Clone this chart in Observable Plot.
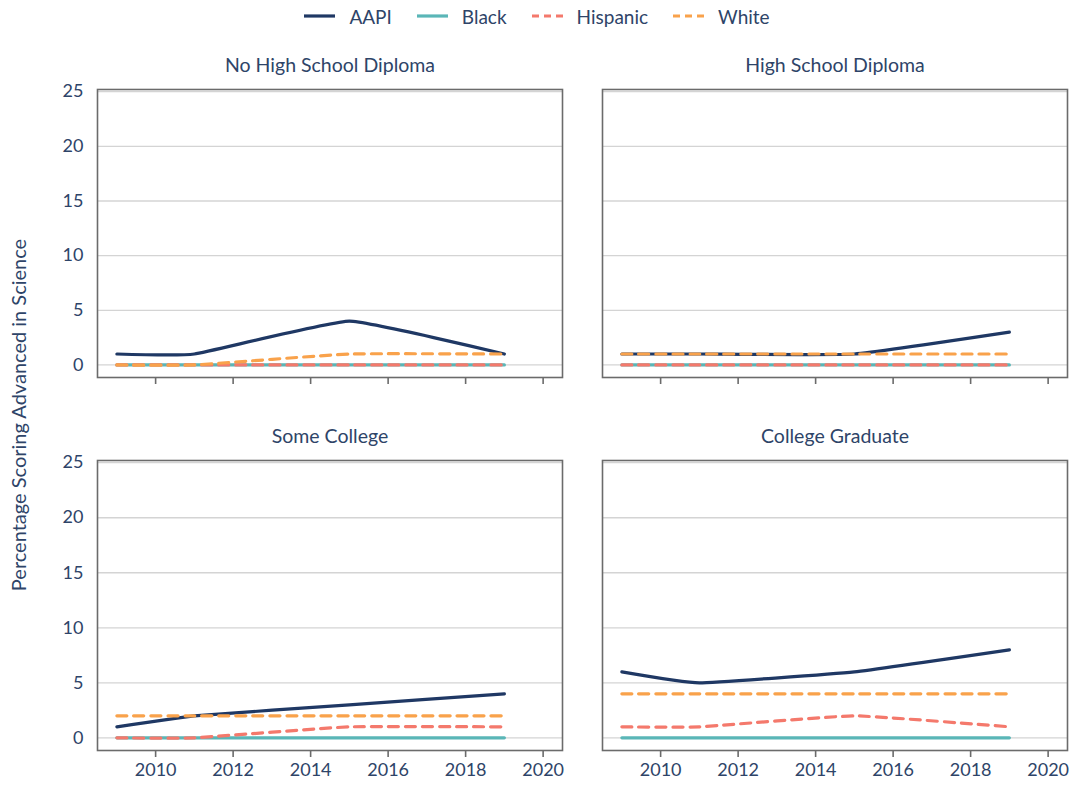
<!DOCTYPE html>
<html>
<head>
<meta charset="utf-8">
<script src="https://cdn.jsdelivr.net/npm/d3@7"></script>
<script src="https://cdn.jsdelivr.net/npm/@observablehq/plot@0.6"></script>
<style>
  html, body { margin: 0; padding: 0; background: #fff; }
  #root { position: relative; width: 1073px; height: 785px; font-family: Lato, "Open Sans", sans-serif; color: #2e4468; }
  .panel { position: absolute; }
  #legend { position: absolute; left: 0; top: 2px; width: 1073px; height: 28px; display: flex; justify-content: center; align-items: center; font-size: 19px; }
  .item { display: flex; align-items: center; margin: 0 12px; }
  .item svg { margin-right: 13px; }
  #ylabel { position: absolute; left: 18px; top: 415px; transform: translate(-50%, -50%) rotate(-90deg); white-space: nowrap; font-size: 20px; z-index: 5; }
</style>
</head>
<body>
<div id="root">
  <div id="legend"></div>
  <div id="ylabel">Percentage Scoring Advanced in Science</div>
</div>
<script>
// ---- Data ----
const years = [2009, 2011, 2015, 2019];
const panels = ["No High School Diploma", "High School Diploma", "Some College", "College Graduate"];
const groups = ["AAPI", "Black", "Hispanic", "White"];
// values per panel (same order as panels), per year
const aapi     = [[1, 1, 4, 1], [1, 1, 1, 3], [1, 2, 3, 4], [6, 5, 6, 8]];
const black    = [[0, 0, 0, 0], [0, 0, 0, 0], [0, 0, 0, 0], [0, 0, 0, 0]];
const hispanic = [[0, 0, 0, 0], [0, 0, 0, 0], [0, 0, 1, 1], [1, 1, 2, 1]];
const white    = [[0, 0, 1, 1], [1, 1, 1, 1], [2, 2, 2, 2], [4, 4, 4, 4]];
const yTicks = [0, 5, 10, 15, 20, 25];
const xTicks = [2010, 2012, 2014, 2016, 2018, 2020];

// ---- Styles ----
const colors = {AAPI: "#1f3864", Black: "#5ab6b7", Hispanic: "#f4796c", White: "#f9a24b"};
const dashes = {AAPI: null, Black: null, Hispanic: "10,7", White: "10,7"};
const textColor = "#2e4468";
const font = "Lato, 'Open Sans', sans-serif";

const seriesValues = {AAPI: aapi, Black: black, Hispanic: hispanic, White: white};

// layout per panel (page coords of frame)
const layout = [
  {left: 0,   top: 40,  ml: 97, mr: 2, mt: 49, mb: 12, fh: 288, labels: false, yaxis: true},
  {left: 600, top: 40,  ml: 2,  mr: 6, mt: 49, mb: 12, fh: 288, labels: false, yaxis: false},
  {left: 0,   top: 420, ml: 97, mr: 2, mt: 40, mb: 35, fh: 290, labels: true,  yaxis: true},
  {left: 600, top: 420, ml: 2,  mr: 6, mt: 40, mb: 35, fh: 290, labels: true,  yaxis: false}
];
const frameW = 465;
const smooth = d3.curveCardinal.tension(0.65);

const root = document.getElementById("root");

panels.forEach((name, i) => {
  const L = layout[i];
  const rows = [];
  groups.forEach(g => {
    years.forEach((yr, j) => rows.push({group: g, year: yr, value: seriesValues[g][i][j]}));
  });
  const marks = [
    Plot.gridY(yTicks, {stroke: "#d4d4d4", strokeOpacity: 1, strokeWidth: 1.3}),
    Plot.frame({stroke: "#6b6b6b", strokeWidth: 1.6}),
  ];
  groups.forEach(g => {
    marks.push(Plot.line(rows.filter(d => d.group === g), {
      x: "year", y: "value", stroke: colors[g], strokeWidth: 3.2,
      strokeDasharray: dashes[g], curve: smooth
    }));
  });
  marks.push(Plot.axisX(xTicks, {
    tickSize: 7, tickPadding: 6, stroke: "#6b6b6b", strokeWidth: 1.6, label: null,
    tickFormat: L.labels ? (d => String(d)) : (() => ""),
    fontSize: 18, fill: textColor
  }));
  if (L.yaxis) {
    marks.push(Plot.axisY(yTicks, {tickSize: 0, tickPadding: 14, fontSize: 18, fill: textColor, label: null}));
  }
  marks.push(Plot.text([name], {frameAnchor: "top", dy: -31, fontSize: 19.5, fill: textColor, text: d => d}));

  const chart = Plot.plot({
    width: L.ml + frameW + L.mr,
    height: L.mt + L.fh + L.mb,
    marginLeft: L.ml, marginRight: L.mr, marginTop: L.mt, marginBottom: L.mb,
    x: {domain: [2008.5, 2020.5], axis: null, label: null},
    y: {domain: [-1.15, 25.2], axis: null, label: null},
    style: {fontFamily: font, fontSize: "18px", color: textColor, background: "transparent", overflow: "visible"},
    marks
  });
  const wrap = document.createElement("div");
  wrap.className = "panel";
  wrap.style.left = L.left + "px";
  wrap.style.top = L.top + "px";
  wrap.appendChild(chart);
  root.appendChild(wrap);
});

// ---- Legend ----
const legend = document.getElementById("legend");
groups.forEach(g => {
  const item = document.createElement("div");
  item.className = "item";
  const dash = dashes[g] ? `stroke-dasharray="7,5"` : "";
  item.innerHTML = `<svg width="33" height="10"><line x1="1" y1="5" x2="32" y2="5" stroke="${colors[g]}" stroke-width="3.2" ${dash}/></svg><span>${g}</span>`;
  legend.appendChild(item);
});
</script>
</body>
</html>
